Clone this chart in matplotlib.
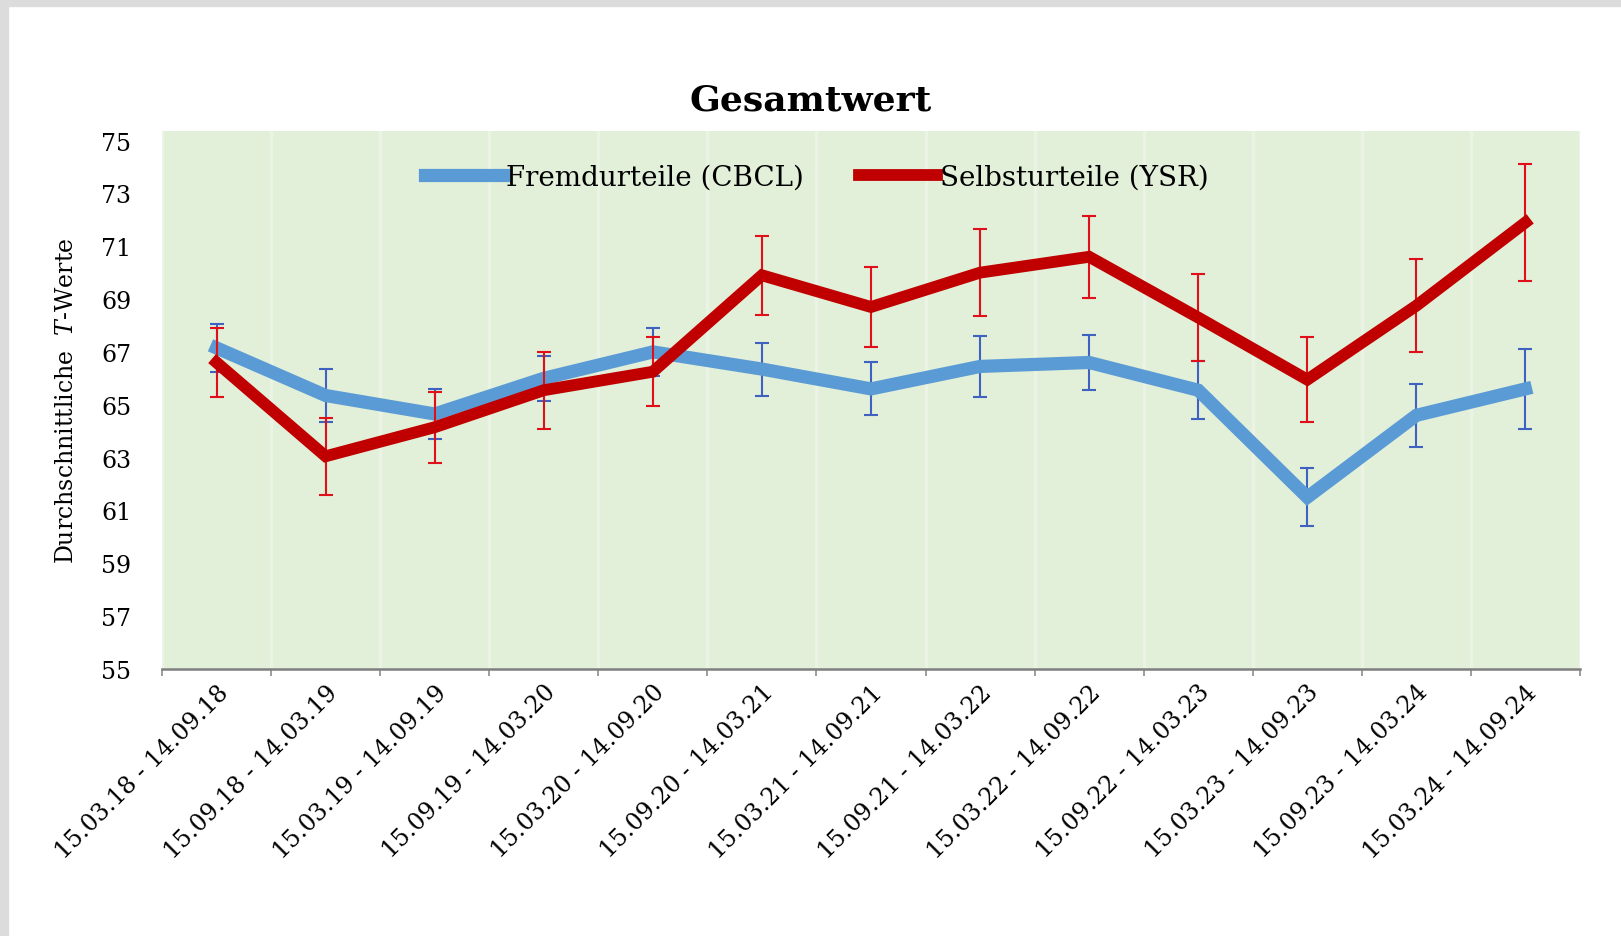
import numpy as np
import matplotlib
matplotlib.use('Agg')
import matplotlib.pyplot as plt
from matplotlib.patches import Rectangle

plt.rcParams['font.family'] = 'DejaVu Serif'
plt.rcParams['mathtext.fontset'] = 'dejavuserif'

# Zeitraeume (Halbjahre)
periods = ['15.03.18 - 14.09.18', '15.09.18 - 14.03.19', '15.03.19 - 14.09.19',
           '15.09.19 - 14.03.20', '15.03.20 - 14.09.20', '15.09.20 - 14.03.21',
           '15.03.21 - 14.09.21', '15.09.21 - 14.03.22', '15.03.22 - 14.09.22',
           '15.09.22 - 14.03.23', '15.03.23 - 14.09.23', '15.09.23 - 14.03.24',
           '15.03.24 - 14.09.24']

# Fremdurteile (CBCL)
cbcl = [67.15, 65.35, 64.65, 66.0, 67.0, 66.35, 65.6, 66.45, 66.6, 65.55, 61.5, 64.6, 65.6]
cbcl_err = [0.9, 1.0, 0.95, 0.85, 0.9, 1.0, 1.0, 1.15, 1.05, 1.1, 1.1, 1.2, 1.5]

# Selbsturteile (YSR)
ysr = [66.6, 63.05, 64.15, 65.55, 66.25, 69.9, 68.7, 70.0, 70.6, 68.3, 65.95, 68.75, 71.9]
ysr_err = [1.3, 1.45, 1.35, 1.45, 1.3, 1.5, 1.5, 1.65, 1.55, 1.65, 1.6, 1.75, 2.2]

yticks = list(range(55, 76, 2))

fig = plt.figure(figsize=(16.21, 9.37), dpi=100)
fig.patch.set_facecolor('white')
# grauer Rahmen links/oben
fig.patches.append(Rectangle((0, 0), 8 / 1621, 1, transform=fig.transFigure,
                             color='#dcdcdc', zorder=0))
fig.patches.append(Rectangle((0, 1 - 7 / 937), 1, 7 / 937, transform=fig.transFigure,
                             color='#dcdcdc', zorder=0))

ax = fig.add_axes([162 / 1621, 1 - 670 / 937, (1580 - 162) / 1621, (670 - 132) / 937])
ax.set_facecolor('#e2efd9')

x = np.arange(len(periods))

ax.errorbar(x, cbcl, yerr=cbcl_err, fmt='none', ecolor='#3f62c0', elinewidth=1.5,
            capsize=5, capthick=1.5, zorder=2)
l1, = ax.plot(x, cbcl, color='#5b9bd5', lw=9.5, solid_joinstyle='miter', zorder=3,
              label='Fremdurteile (CBCL)')
ax.errorbar(x, ysr, yerr=ysr_err, fmt='none', ecolor='#e0101a', elinewidth=1.5,
            capsize=5, capthick=1.5, zorder=4)
l2, = ax.plot(x, ysr, color='#c00000', lw=8.5, solid_joinstyle='miter', zorder=5,
              label='Selbsturteile (YSR)')

ax.set_xlim(-0.5, len(periods) - 0.5)
ax.set_ylim(55, 75.36)
ax.set_yticks(yticks)
ax.tick_params(axis='y', length=0, pad=22, labelsize=17)

ax.set_xticks(x)
ax.set_xticklabels(periods, rotation=45, ha='right', va='top', rotation_mode='anchor',
                   fontsize=17)
ax.set_xticks(np.arange(-0.5, len(periods), 1), minor=True)
ax.tick_params(axis='x', which='major', length=0, pad=8)
ax.tick_params(axis='x', which='minor', length=5, color='#8c8c8c', width=1.2)
ax.grid(axis='x', which='minor', color='white', alpha=0.3, lw=2.5)

for s in ['top', 'right', 'left']:
    ax.spines[s].set_visible(False)
ax.spines['bottom'].set_color('#7f7f7f')
ax.spines['bottom'].set_linewidth(1.8)

fig.text(0.5, 1 - 101 / 937, 'Gesamtwert', ha='center', va='center',
         fontsize=26, fontweight='bold')
fig.text(67 / 1621, 1 - 401 / 937, r'Durchschnittliche  $\mathit{T}$-Werte',
         rotation=90, ha='center', va='center', fontsize=17)

fig.legend(handles=[l1, l2], loc='center', bbox_to_anchor=(817 / 1621, 1 - 178 / 937),
           ncol=2, frameon=False, fontsize=20, handlelength=2.8, handletextpad=0.1,
           columnspacing=2)

fig.savefig('out.png', dpi=100)
